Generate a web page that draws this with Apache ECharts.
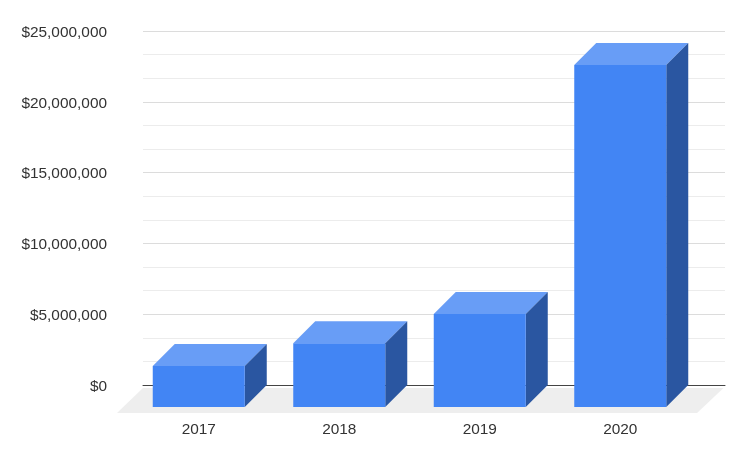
<!DOCTYPE html>
<html>
<head>
<meta charset="utf-8">
<style>html,body{margin:0;padding:0;background:#fff}#c{width:746px;height:460px}</style>
<script src="https://cdn.jsdelivr.net/npm/echarts@6/dist/echarts.min.js"></script>
</head>
<body>
<div id="c"></div>
<script>
const categories = ['2017', '2018', '2019', '2020'];
const revenue = [2900000, 4500000, 6570000, 24150000];
const yTickLabels = ['$0', '$5,000,000', '$10,000,000', '$15,000,000', '$20,000,000', '$25,000,000'];
const yMax = 25000000;
const yStep = 5000000;

const DEPTH = 22;
const BAR_RATIO = 92 / 140.5;
const FONT = '"Liberation Sans", Arial, sans-serif';

function poly(points, fill) {
  return { type: 'polygon', shape: { points: points }, style: { fill: fill }, silent: true };
}

const chart = echarts.init(document.getElementById('c'), null, { renderer: 'canvas' });
chart.setOption({
  animation: false,
  backgroundColor: '#ffffff',
  grid: [
    { left: 143, top: 31, width: 582, height: 354 },
    { left: 128.5, top: 53, width: 562, height: 354 }
  ],
  xAxis: [
    {
      gridIndex: 0, type: 'value', min: 0, max: 1,
      axisLine: { show: true, lineStyle: { color: '#444444', width: 1 } },
      axisTick: { show: false }, axisLabel: { show: false }, splitLine: { show: false }
    },
    {
      gridIndex: 1, type: 'category', data: categories,
      axisLine: { show: false }, axisTick: { show: false },
      axisLabel: { color: '#333333', fontFamily: FONT, fontSize: 15.4, margin: 15 },
      splitLine: { show: false }
    }
  ],
  yAxis: [
    {
      gridIndex: 0, type: 'value', min: 0, max: yMax, interval: yStep,
      axisLine: { show: false }, axisTick: { show: false },
      axisLabel: {
        margin: 36,
        formatter: function (v) { return '{t|' + yTickLabels[Math.round(v / yStep)] + '}'; },
        rich: { t: { color: '#333333', fontFamily: FONT, fontSize: 15.4, padding: [3, 0, 0, 0] } }
      },
      splitLine: { show: true, lineStyle: { color: '#dcdcdc', width: 1 } },
      minorTick: { show: false, splitNumber: 3 },
      minorSplitLine: { show: true, lineStyle: { color: '#ececec', width: 1 } }
    },
    {
      gridIndex: 1, type: 'value', min: 0, max: yMax, interval: yStep,
      axisLine: { show: false }, axisTick: { show: false },
      axisLabel: { show: false }, splitLine: { show: false }
    }
  ],
  series: [
    {
      type: 'custom', xAxisIndex: 1, yAxisIndex: 1, z: 1, silent: true,
      data: [[0]],
      renderItem: function (params, api) {
        const cs = params.coordSys;
        const y0 = api.coord([0, 0])[1];
        return poly([
          [cs.x + 14.5, y0 - 19],
          [cs.x + cs.width + 33, y0 - 19],
          [cs.x + cs.width + 6.5, y0 + 6],
          [cs.x - 11.5, y0 + 6]
        ], '#eeeeee');
      }
    },
    {
      type: 'custom', xAxisIndex: 1, yAxisIndex: 1, z: 3, silent: true,
      encode: { x: 0, y: 1 },
      data: revenue.map(function (v, i) { return [i, v]; }),
      renderItem: function (params, api) {
        const top = api.coord([api.value(0), api.value(1)]);
        const bottomY = api.coord([api.value(0), 0])[1];
        const w = api.size([1, 0])[0] * BAR_RATIO;
        const l = top[0] - w / 2, r = top[0] + w / 2, t = top[1], b = bottomY;
        return {
          type: 'group',
          children: [
            poly([[l, t], [r, t], [r + DEPTH, t - DEPTH], [l + DEPTH, t - DEPTH]], '#689df6'),
            poly([[r, t], [r + DEPTH, t - DEPTH], [r + DEPTH, b - DEPTH], [r, b]], '#2a56a1'),
            poly([[l, t], [r, t], [r, b], [l, b]], '#4285f4')
          ]
        };
      }
    }
  ]
});
</script>
</body>
</html>
